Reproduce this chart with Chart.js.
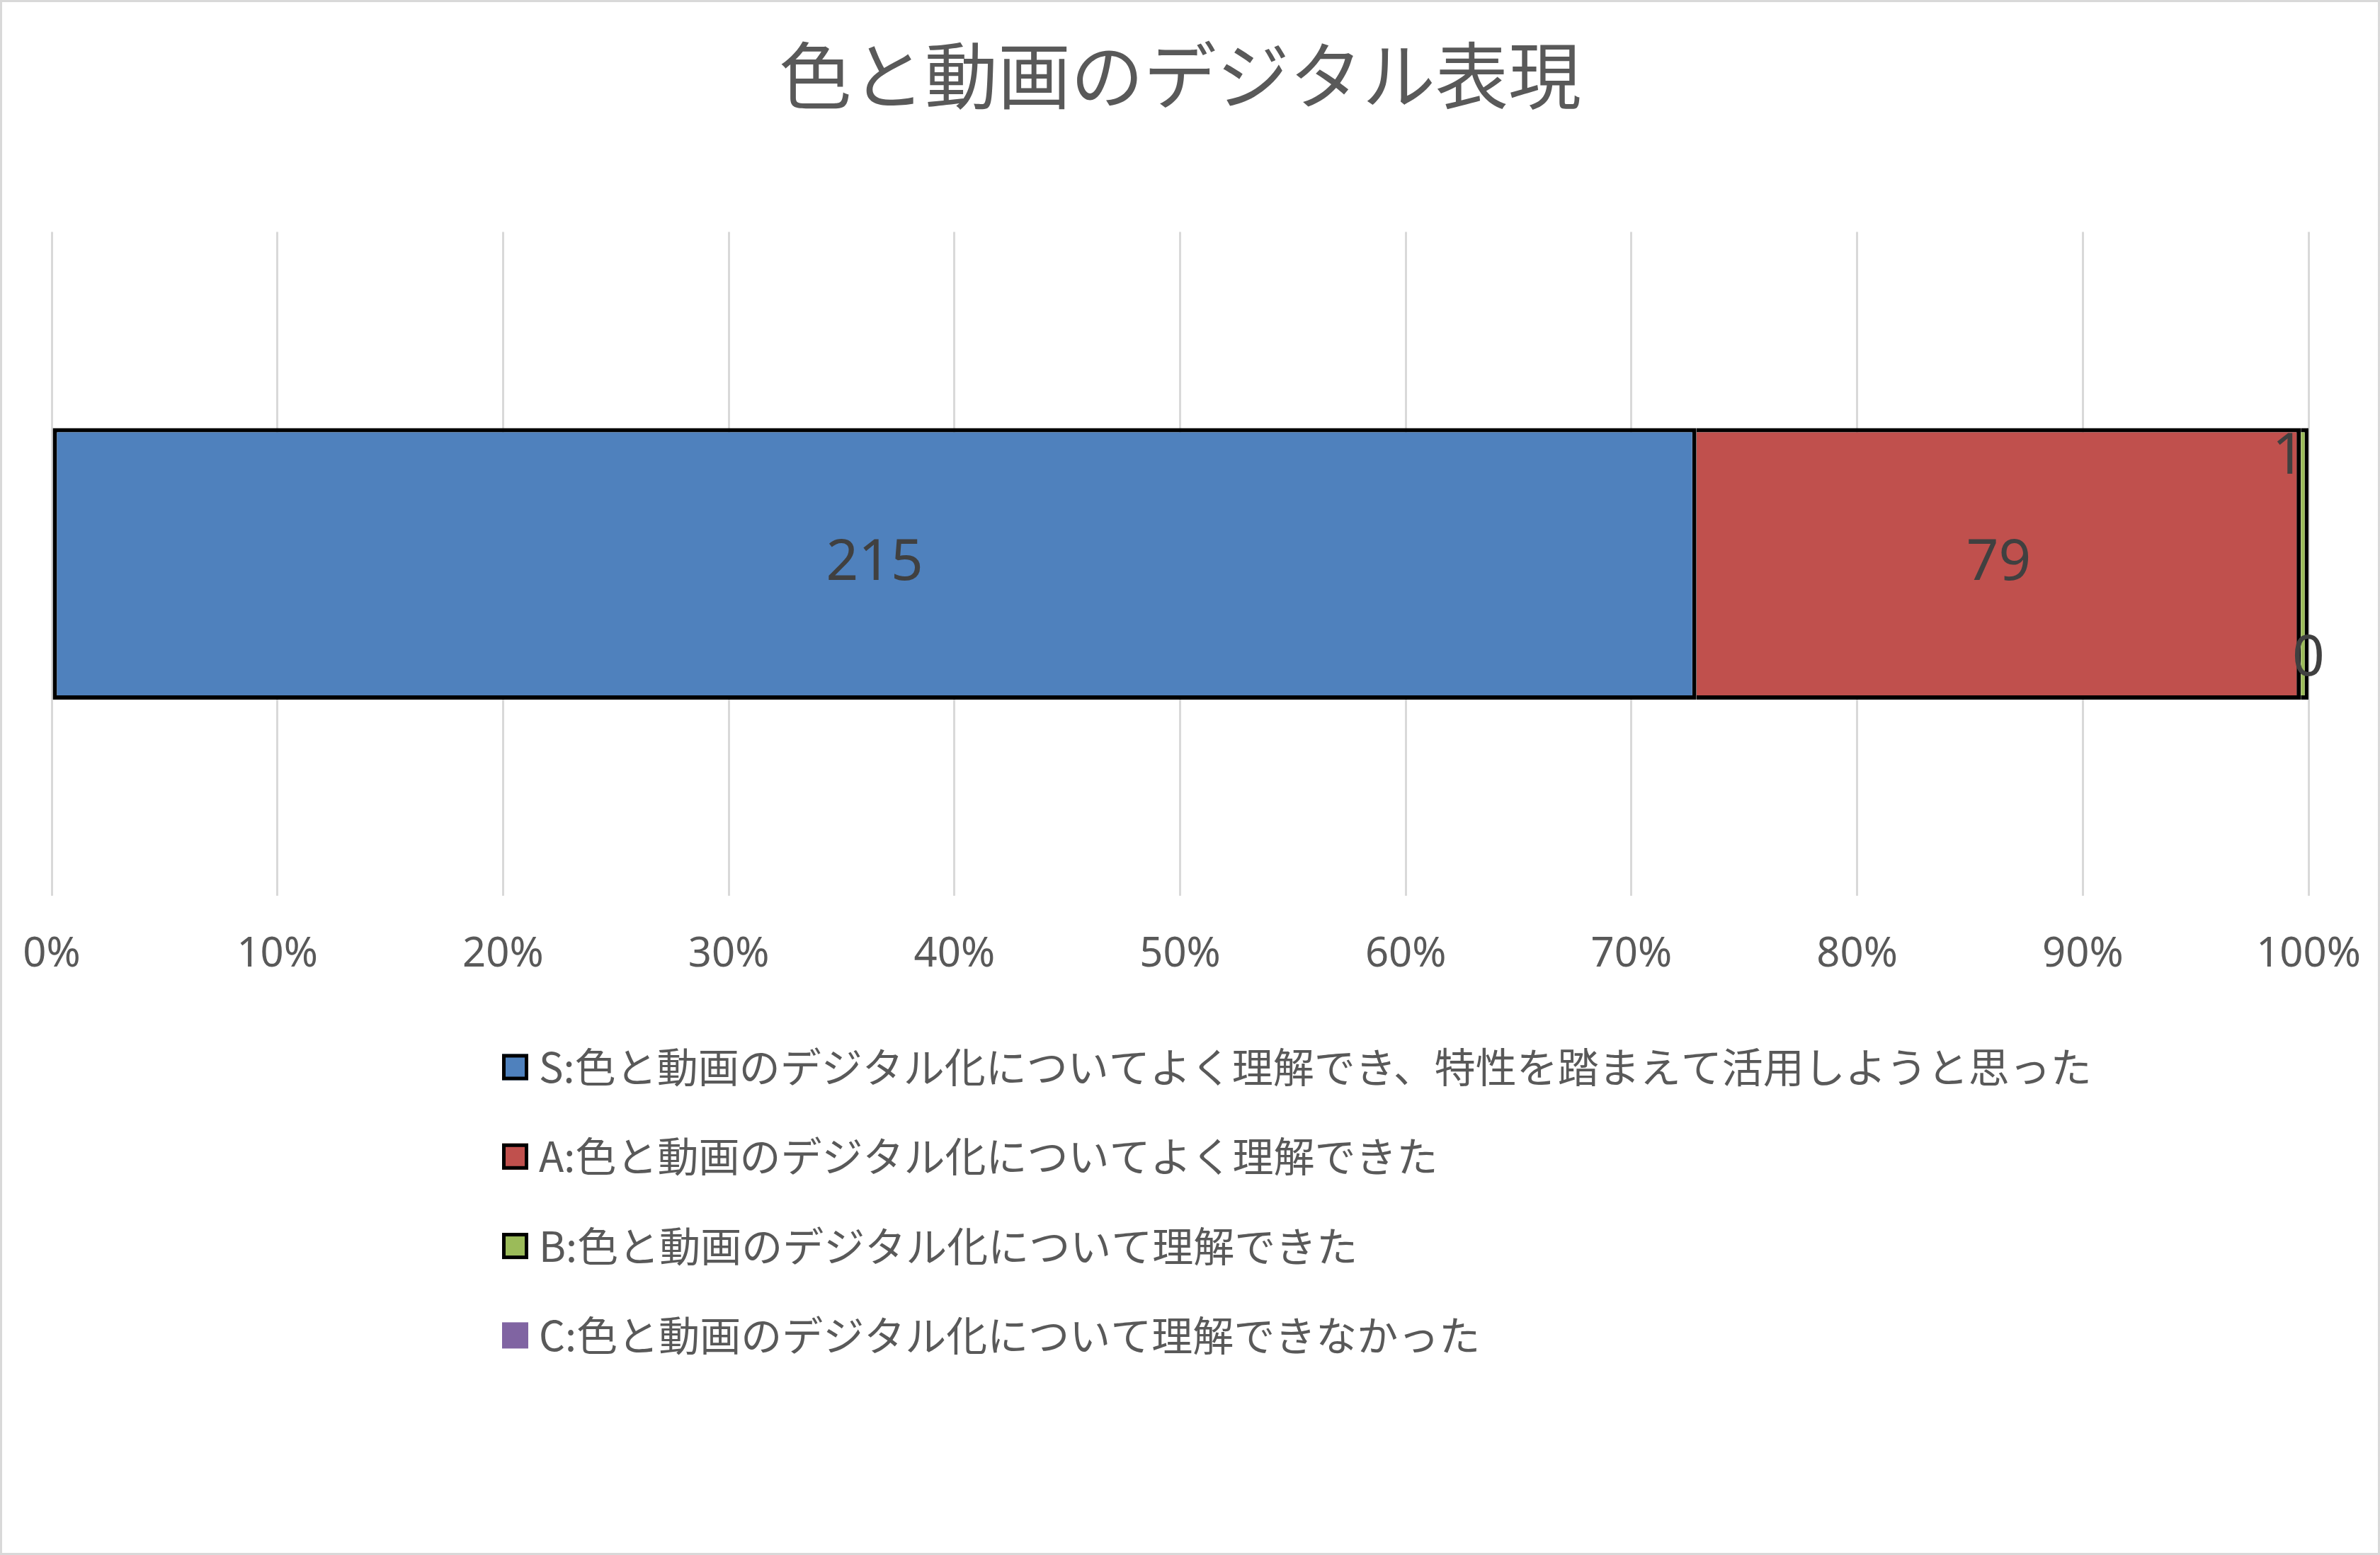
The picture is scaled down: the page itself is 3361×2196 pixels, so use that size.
<!DOCTYPE html>
<html lang="ja">
<head>
    <meta charset="UTF-8">
    <title>色と動画のデジタル表現</title>
    <script src="https://cdn.jsdelivr.net/npm/chart.js"></script>
    <style>
        html, body { margin: 0; padding: 0; background: #fff; }
        #wrap { width: 3361px; height: 2196px; position: relative; }
    </style>
</head>
<body>
    <div id="wrap"><canvas id="chart"></canvas></div>

    <script>
        // データ
        const categories = ["色と動画のデジタル表現"];
        const seriesNames = [
            "S:色と動画のデジタル化についてよく理解でき、特性を踏まえて活用しようと思った",
            "A:色と動画のデジタル化についてよく理解できた",
            "B:色と動画のデジタル化について理解できた",
            "C:色と動画のデジタル化について理解できなかった"
        ];
        const seriesCounts = [215, 79, 1, 0];
        const seriesColors = ["#4F81BD", "#C0504D", "#9BBB59", "#8064A2"];
        const tickValues = [0, 10, 20, 30, 40, 50, 60, 70, 80, 90, 100];

        const total = seriesCounts.reduce((a, b) => a + b, 0);
        const jpFont = "'Noto Sans CJK JP', 'Noto Sans', sans-serif";
        const numFont = "'Noto Sans', 'Noto Sans CJK JP', sans-serif";

        // 背景と外枠
        const frame = {
            id: "frame",
            beforeDraw(chart) {
                const c = chart.ctx;
                c.save();
                c.fillStyle = "#fff";
                c.fillRect(0, 0, chart.width, chart.height);
                c.strokeStyle = "#d9d9d9";
                c.lineWidth = 6;
                c.strokeRect(0, 0, chart.width, chart.height);
                c.restore();
            }
        };

        // データラベル（件数）
        const nudge = { 2: { align: "right", at: "mid", dy: -150 }, 3: { align: "center", at: "end", dy: 135 } };
        const countLabels = {
            id: "countLabels",
            afterDatasetsDraw(chart) {
                const c = chart.ctx;
                c.save();
                c.font = "80px " + numFont;
                c.fillStyle = "#404040";
                c.textBaseline = "middle";
                chart.data.datasets.forEach((ds, i) => {
                    const el = chart.getDatasetMeta(i).data[0];
                    if (!el) return;
                    const mid = (el.x + el.base) / 2;
                    const n = nudge[i];
                    c.textAlign = n ? n.align : "center";
                    const x = n ? (n.at === "end" ? el.x : mid) : mid;
                    c.fillText(String(seriesCounts[i]), x, el.y + (n ? n.dy : 0));
                });
                c.restore();
            }
        };

        // 凡例（縦に並べる）
        const stackedLegend = {
            id: "stackedLegend",
            afterDraw(chart) {
                const c = chart.ctx;
                const left = 709, top = 1507, step = 126.3, box = 37;
                c.save();
                c.font = "58px " + jpFont;
                c.textBaseline = "middle";
                c.textAlign = "left";
                chart.data.datasets.forEach((ds, i) => {
                    const cy = top + i * step;
                    c.fillStyle = ds.backgroundColor;
                    c.fillRect(left, cy - box / 2, box, box);
                    if (ds.borderWidth > 0) {
                        c.strokeStyle = "#000";
                        c.lineWidth = 5;
                        c.strokeRect(left + 2.5, cy - box / 2 + 2.5, box - 5, box - 5);
                    }
                    c.fillStyle = "#595959";
                    c.fillText(ds.label, left + 52, cy);
                });
                c.restore();
            }
        };

        const datasets = seriesNames.map((name, i) => ({
            label: name,
            data: [seriesCounts[i] / total * 100],
            backgroundColor: seriesColors[i],
            borderColor: "#000",
            borderWidth: i === 3 ? 0 : 6,
            borderSkipped: i === 0 ? false : "start",
            categoryPercentage: 0.409,
            barPercentage: 1
        }));

        new Chart(document.getElementById("chart"), {
            type: "bar",
            data: { labels: categories, datasets: datasets },
            plugins: [frame, countLabels, stackedLegend],
            options: {
                indexAxis: "y",
                responsive: true,
                maintainAspectRatio: false,
                animation: false,
                layout: { padding: { left: 73, right: 101, top: 0, bottom: 811 } },
                plugins: {
                    legend: { display: false },
                    tooltip: { enabled: false },
                    title: {
                        display: true,
                        text: "色と動画のデジタル表現",
                        color: "#595959",
                        font: { family: jpFont, size: 103, weight: "normal" },
                        padding: { top: 45, bottom: 159 }
                    }
                },
                scales: {
                    x: {
                        stacked: true,
                        min: 0,
                        max: 100,
                        afterBuildTicks(scale) {
                            scale.ticks = tickValues.map(v => ({ value: v }));
                        },
                        afterFit(scale) {
                            scale.paddingLeft = 0;
                            scale.paddingRight = 0;
                            scale.height = 120;
                        },
                        ticks: {
                            callback: v => v + "%",
                            color: "#595959",
                            font: { family: numFont, size: 58 },
                            padding: 49,
                            maxRotation: 0
                        },
                        grid: { color: "#d9d9d9", lineWidth: 3, drawTicks: false },
                        border: { display: false }
                    },
                    y: {
                        stacked: true,
                        display: false
                    }
                }
            }
        });
    </script>
</body>
</html>
